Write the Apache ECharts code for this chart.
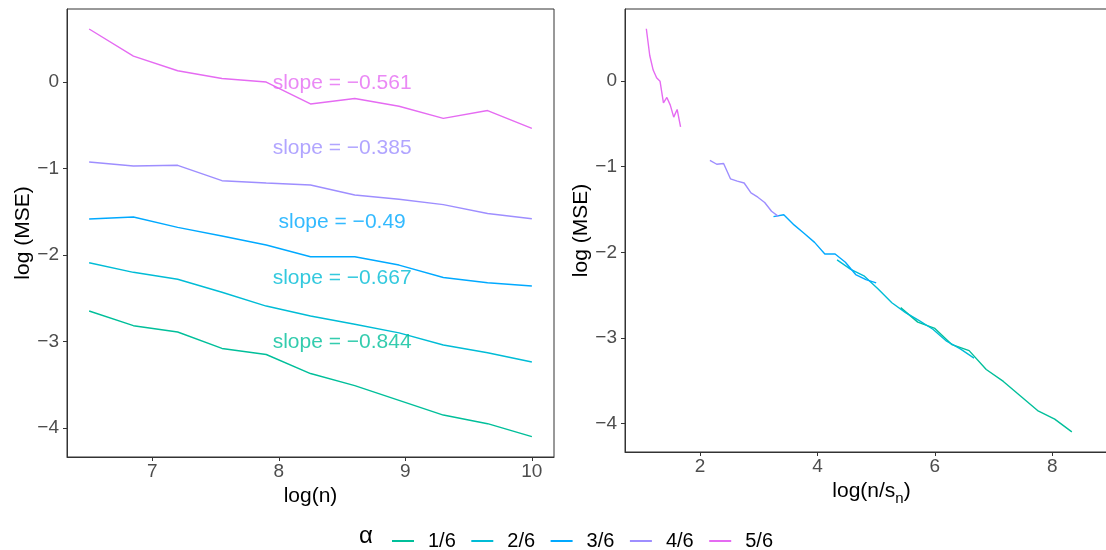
<!DOCTYPE html>
<html>
<head>
<meta charset="utf-8">
<script src="https://cdn.jsdelivr.net/npm/echarts@6/dist/echarts.min.js"></script>
<style>html,body{margin:0;padding:0;background:#fff;}#c{width:1106px;height:550px;}</style>
</head>
<body>
<div id="c"></div>
<script>
// ---- data ----
var logN = [6.5, 6.85, 7.2, 7.55, 7.9, 8.25, 8.6, 8.95, 9.3, 9.65, 10];
var alphaNames = ['1/6', '2/6', '3/6', '4/6', '5/6'];
var alphaValues = [1/6, 2/6, 3/6, 4/6, 5/6];
var mse16 = [-2.647, -2.817, -2.89, -3.08, -3.15, -3.37, -3.51, -3.68, -3.85, -3.95, -4.10];
var mse26 = [-2.089, -2.20, -2.28, -2.43, -2.59, -2.705, -2.80, -2.90, -3.04, -3.13, -3.237];
var mse36 = [-1.584, -1.561, -1.68, -1.78, -1.884, -2.02, -2.02, -2.116, -2.26, -2.32, -2.358];
var mse46 = [-0.925, -0.971, -0.963, -1.141, -1.168, -1.19, -1.306, -1.356, -1.418, -1.52, -1.58];
var mse56 = [0.613, 0.30, 0.13, 0.04, 0.0, -0.254, -0.19, -0.28, -0.42, -0.33, -0.535];
var slopeTexts = ['slope = \u22120.844', 'slope = \u22120.667', 'slope = \u22120.49', 'slope = \u22120.385', 'slope = \u22120.561'];
var slopeLabelX = [8.5, 8.5, 8.5, 8.5, 8.5];
var slopeLabelY = [-3.01, -2.27, -1.615, -0.76, -0.01];
var yTicks = [-4, -3, -2, -1, 0];
var xTicksLeft = [7, 8, 9, 10];
var xTicksRight = [2, 4, 6, 8];

var colors = ['#00BF9A', '#00BCD6', '#00A9FF', '#9E8EFF', '#E56BF2'];
var allMse = [mse16, mse26, mse36, mse46, mse56];

var FONT = 'Liberation Sans, Arial, sans-serif';
var AX = '#333333';
function minus(v){ return String(v).replace('-', '\u2212'); }

function axisCommon(ticks, margin) {
  return {
    axisLine: {show: true, onZero: false, lineStyle: {color: AX, width: 1}},
    axisTick: {show: true, length: 4, inside: false, lineStyle: {color: AX, width: 1}, customValues: ticks},
    axisLabel: {show: true, margin: margin, color: '#4D4D4D', fontSize: 19, fontFamily: FONT, customValues: ticks, formatter: minus},
    splitLine: {show: false}
  };
}

var series = [];
for (var i = 0; i < 5; i++) {
  var left = [], right = [];
  for (var j = 0; j < logN.length; j++) {
    left.push([logN[j], allMse[i][j]]);
    right.push([logN[j] * (1 - alphaValues[i]), allMse[i][j]]);
  }
  series.push({type: 'line', name: alphaNames[i], xAxisIndex: 0, yAxisIndex: 0, data: left,
    symbol: 'none', lineStyle: {color: colors[i], width: 1.4}, itemStyle: {color: colors[i]}, animation: false});
  series.push({type: 'line', name: alphaNames[i], xAxisIndex: 1, yAxisIndex: 1, data: right,
    symbol: 'none', lineStyle: {color: colors[i], width: 1.4}, itemStyle: {color: colors[i]}, animation: false});
}
for (var k = 0; k < 5; k++) {
  series.push({type: 'scatter', name: 'lab' + k, xAxisIndex: 0, yAxisIndex: 0,
    data: [[slopeLabelX[k], slopeLabelY[k]]], symbol: 'circle', symbolSize: 2, itemStyle: {color: 'rgba(0,0,0,0)'}, silent: true, z: 5,
    label: {show: true, position: 'inside', formatter: slopeTexts[k], color: colors[k], fontSize: 21, fontFamily: FONT},
    animation: false});
}

var option = {
  backgroundColor: '#fff',
  animation: false,
  grid: [
    {left: 67, top: 9, width: 487, height: 448, show: true, borderColor: AX, borderWidth: 1, backgroundColor: 'transparent', outerBoundsMode: 'none', containLabel: false},
    {left: 625, top: 9, width: 493, height: 443, show: true, borderColor: AX, borderWidth: 1, backgroundColor: 'transparent', outerBoundsMode: 'none', containLabel: false}
  ],
  xAxis: [
    Object.assign({type: 'value', gridIndex: 0, min: 6.325, max: 10.175, name: 'log(n)', nameLocation: 'middle', nameGap: 24,
      nameTextStyle: {color: '#000', fontSize: 21, fontFamily: FONT}}, axisCommon(xTicksLeft, 5)),
    Object.assign({type: 'value', gridIndex: 1, min: 0.72, max: 9.12, name: '{a|log(n/s}{b|n}{a|)}', nameLocation: 'middle', nameGap: 21,
      nameTextStyle: {color: '#000', fontSize: 21, fontFamily: FONT,
        rich: {a: {fontSize: 21, fontFamily: FONT, color: '#000', lineHeight: 30},
               b: {fontSize: 15, fontFamily: FONT, color: '#000', lineHeight: 15, verticalAlign: 'bottom'}}}}, axisCommon(xTicksRight, 5))
  ],
  yAxis: [
    Object.assign({type: 'value', gridIndex: 0, min: -4.335, max: 0.844, name: 'log (MSE)', nameLocation: 'middle', nameGap: 33,
      nameRotate: 90, nameTextStyle: {color: '#000', fontSize: 21, fontFamily: FONT}}, axisCommon(yTicks, 8)),
    Object.assign({type: 'value', gridIndex: 1, min: -4.335, max: 0.844, name: 'log (MSE)', nameLocation: 'middle', nameGap: 33,
      nameRotate: 90, nameTextStyle: {color: '#000', fontSize: 21, fontFamily: FONT}}, axisCommon(yTicks, 8))
  ],
  legend: {
    data: alphaNames, left: 387, top: 526, icon: 'rect', itemWidth: 22, itemHeight: 2, itemGap: 15.5,
    textStyle: {color: '#000', fontSize: 20, fontFamily: FONT, padding: [0, 0, 0, 9]},
    selectedMode: false
  },
  graphic: [
    {type: 'text', left: 359, top: 524, style: {text: '\u03B1', fontSize: 24, fontFamily: FONT, fill: '#000'}}
  ],
  series: series
};

var chart = echarts.init(document.getElementById('c'), null, {renderer: 'canvas'});
chart.setOption(option);
</script>
</body>
</html>
